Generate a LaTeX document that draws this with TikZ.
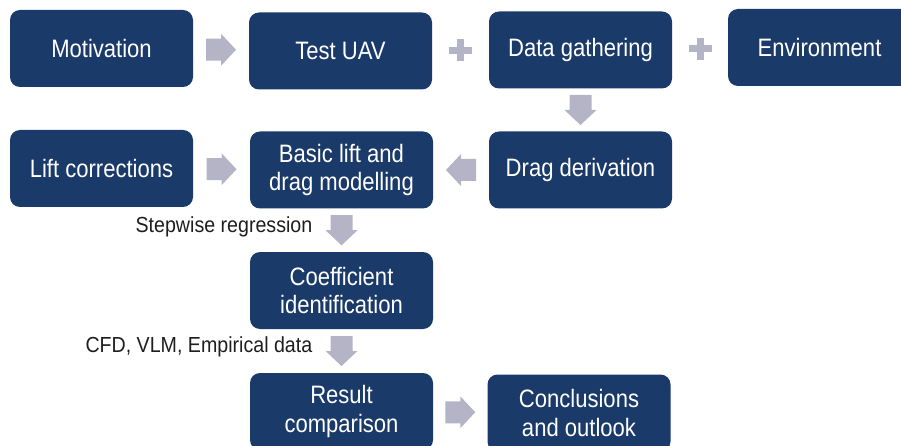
\documentclass[tikz,border=0pt]{standalone}
\usepackage{fontspec}
\setmainfont{Liberation Sans}
\newfontfamily\boxfont[FakeStretch=0.875]{Liberation Sans}
\newfontfamily\lblfont[FakeStretch=0.9]{Liberation Sans}
\usetikzlibrary{calc}
\definecolor{boxc}{RGB}{26,58,105}
\definecolor{arrc}{RGB}{180,180,198}
\definecolor{txtc}{RGB}{30,30,30}
\tikzset{
  x=1pt, y=-1pt,
  box/.style={fill=boxc, rounded corners=10pt, minimum width=183pt, minimum height=77pt,
    inner sep=0pt, text=white, align=center, font=\boxfont\fontsize{25.2}{28.5}\selectfont},
  lbl/.style={text=txtc, inner sep=0pt, font=\lblfont\fontsize{21.8}{24}\selectfont},
  barr/.pic={\fill[arrc] (-15,-11) -- (0,-11) -- (0,-16) -- (15,0) -- (0,16) -- (0,11) -- (-15,11) -- cycle;},
  pluss/.pic={\fill[arrc] (-11.5,-3.5) rectangle (11.5,3.5); \fill[arrc] (-3.5,-11) rectangle (3.5,11);}
}
\begin{document}
\begin{tikzpicture}
\useasboundingbox (0,0) rectangle (901,446);
\node[box] (mot) at (101.5,48.5) {Motivation};
\node[box] (test) at (340.5,51) {Test UAV};
\node[box] (data) at (580.5,50) {Data gathering};
\node[box] (env) at (819.5,47.5) {Environment};
\node[box] (lift) at (101.5,168.5) {Lift corrections};
\node[box] (basic) at (341.5,170) {Basic lift and\\drag modelling};
\node[box] (drag) at (580.5,170) {Drag derivation};
\node[box] (coef) at (341.5,290.5) {Coefficient\\identification};
\node[box] (res) at (341.5,411.5) {Result\\comparison};
\node[box] (conc) at (579,413) {Conclusions\\and outlook};

\pic at ($(mot.east)!0.5!(test.west)$) {barr};
\pic at ($(test.east)!0.5!(data.west)$) {pluss};
\pic at ($(data.east)!0.5!(env.west)$) {pluss};
\pic[rotate=-90] at ($(data.south)!0.5!(drag.north)$) {barr};
\pic at ($(lift.east)!0.5!(basic.west)$) {barr};
\pic[rotate=180] at ($(drag.west)!0.5!(basic.east)$) {barr};
\pic[rotate=-90] at ($(basic.south)!0.5!(coef.north)$) {barr};
\pic[rotate=-90] at ($(coef.south)!0.5!(res.north)$) {barr};
\pic at ($(res.east)!0.5!(conc.west)$) {barr};

\coordinate (s1) at ($(basic.south)!0.5!(coef.north)$);
\coordinate (s2) at ($(coef.south)!0.5!(res.north)$);
\node[lbl, anchor=east] (stepw) at ($(s1)+(-29,-3)$) {Stepwise regression};
\node[lbl, anchor=east] (cfd) at ($(s2)+(-29,-4)$) {CFD, VLM, Empirical data};
\end{tikzpicture}
\end{document}
